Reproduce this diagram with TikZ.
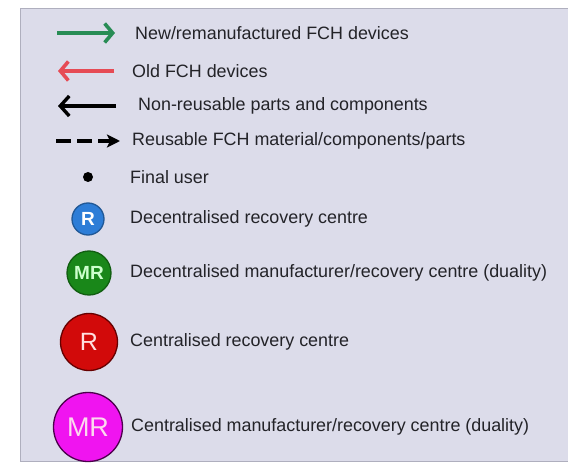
\documentclass[tikz,border=0pt]{standalone}
\usepackage{fontspec}
\setmainfont{Liberation Sans}
\usetikzlibrary{arrows.meta}

\definecolor{legendbg}{RGB}{220,220,234}
\definecolor{legendedge}{RGB}{175,175,190}
\definecolor{labelgray}{RGB}{35,35,40}
\definecolor{newgreen}{RGB}{40,140,85}
\definecolor{oldred}{RGB}{230,75,85}
\definecolor{decblue}{RGB}{45,125,215}
\definecolor{decgreen}{RGB}{25,135,25}
\definecolor{cenred}{RGB}{210,10,10}
\definecolor{cenmagenta}{RGB}{240,20,240}

\tikzset{
  legendtext/.style={anchor=west, text=labelgray, inner sep=0pt,
    font=\fontsize{17.9}{21}\selectfont},
  centre/.style={circle, draw, inner sep=0pt, line width=1.3pt},
}

\begin{document}
\begin{tikzpicture}[x=1pt, y=-1pt]
  \useasboundingbox (0,0) rectangle (568,468);
  \fill[white] (0,0) rectangle (568,468);
  \draw[legendedge, fill=legendbg, line width=1pt] (20.5,8.5) rectangle (590,461);

  % flows
  \coordinate (newA) at (57,33);
  \coordinate (newB) at (115,33);
  \draw[newgreen, line width=3.6pt, -{Straight Barb[length=8pt,width=19pt]}] (newA) -- (newB);
  \node[legendtext] (newtxt) at (135,33) {New/remanufactured FCH devices};

  \coordinate (oldA) at (58,71);
  \coordinate (oldB) at (114,71);
  \draw[oldred, line width=3.6pt, -{Straight Barb[length=8pt,width=19pt]}] (oldB) -- (oldA);
  \node[legendtext] (oldtxt) at (132,71) {Old FCH devices};

  \coordinate (nonA) at (58,106);
  \coordinate (nonB) at (116,106);
  \draw[black, line width=3.4pt, -{Straight Barb[length=9pt,width=20pt]}] (nonB) -- (nonA);
  \node[legendtext] (nontxt) at (138,106) {Non-reusable parts and components};

  \coordinate (reuA) at (56,141);
  \coordinate (reuB) at (120,141);
  \draw[black, line width=3.2pt, dash pattern=on 15pt off 6pt,
    -{Stealth[length=13pt,width=13pt,inset=3pt]}] (reuA) -- (reuB);
  \node[legendtext] (reutxt) at (132,141) {Reusable FCH material/components/parts};

  % actors
  \node[circle, fill=black, inner sep=0pt, minimum size=10pt] (user) at (88,177) {};
  \node[legendtext] (usertxt) at (130,177) {Final user};

  \node[centre, draw=decblue!70!black, fill=decblue, minimum size=32pt,
    text=white, font=\fontsize{19}{19}\selectfont\bfseries] (decR) at (88,219) {R};
  \node[legendtext] (decRtxt) at (130,219) {Decentralised recovery centre};

  \node[centre, draw=decgreen!70!black, fill=decgreen, minimum size=44pt,
    text=green!20!white, font=\fontsize{19}{19}\selectfont\bfseries] (decMR) at (89,273) {MR};
  \node[legendtext] (decMRtxt) at (130,273) {Decentralised manufacturer/recovery centre (duality)};

  \node[centre, draw=red!40!black, fill=cenred, minimum size=57pt,
    text=red!12!white, font=\fontsize{25}{25}\selectfont] (cenR) at (89,342) {R};
  \node[legendtext] (cenRtxt) at (130,342) {Centralised recovery centre};

  \node[centre, draw=violet!60!black, fill=cenmagenta, minimum size=69pt,
    text=magenta!15!white, font=\fontsize{27}{27}\selectfont] (cenMR) at (88,427) {MR};
  \node[legendtext] (cenMRtxt) at (131,427) {Centralised manufacturer/recovery centre (duality)};
\end{tikzpicture}
\end{document}
